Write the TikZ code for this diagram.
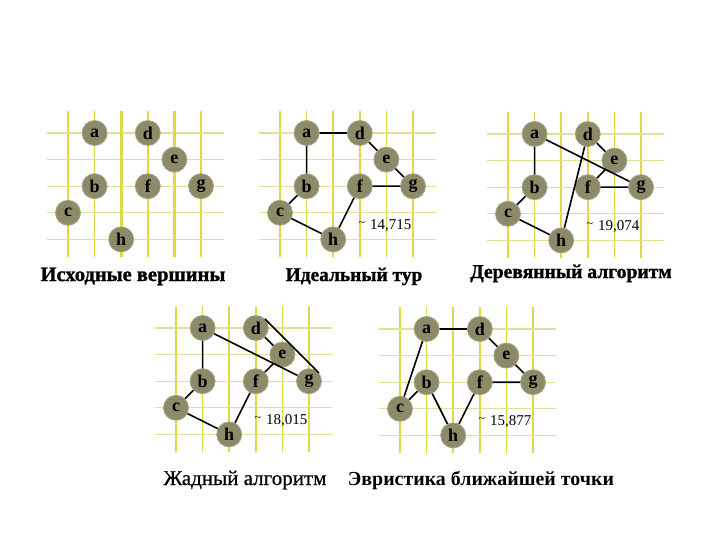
\documentclass[tikz,border=0pt]{standalone}
\usepackage{fontspec}
\setmainfont{Liberation Serif}
\newfontfamily\heavyfont[FakeBold=1.2]{Liberation Serif Bold}
\newfontfamily\semifont[FakeBold=0.6]{Liberation Serif}
\definecolor{nodefill}{RGB}{140,138,104}
\definecolor{noderim}{RGB}{165,163,132}
\definecolor{vline}{RGB}{222,218,70}
\definecolor{hline}{RGB}{226,224,150}
\newcommand{\U}{26.6}
\newcommand{\drawgrid}[2]{%
  \foreach \i in {0,...,5}{\draw[vgrid] (#1+\i*\U, #2-22) -- (#1+\i*\U, #2+4*\U+18);}
  \foreach \j in {0,...,4}{\draw[hgrid] (#1-21, #2+\j*\U) -- (#1+5*\U+23, #2+\j*\U);}
}
\newcommand{\placenodes}[3]{%
  \node[vtx] (#1a) at (#2+1*\U, #3+0*\U) {a};
  \node[vtx] (#1d) at (#2+3*\U, #3+0*\U) {d};
  \node[vtx] (#1e) at (#2+4*\U, #3+1*\U) {e};
  \node[vtx] (#1b) at (#2+1*\U, #3+2*\U) {b};
  \node[vtx] (#1f) at (#2+3*\U, #3+2*\U) {f};
  \node[vtx] (#1g) at (#2+5*\U, #3+2*\U) {g};
  \node[vtx] (#1c) at (#2+0*\U, #3+3*\U) {c};
  \node[vtx] (#1h) at (#2+2*\U, #3+4*\U) {h};
}
\newcommand{\tourlabel}[4]{%
  \node[lbl] (#1l) at (#2+3.4*\U-12, #3+3.47*\U) {{\fontsize{12}{12}\selectfont\raisebox{0.55ex}{\textasciitilde}}\hspace{5pt}#4};
}
\tikzset{
  vgrid/.style={draw=vline, line width=1.5pt},
  vgridthick/.style={draw=vline, line width=3pt},
  hgrid/.style={draw=hline, line width=1.1pt},
  vtx/.style={circle, fill=nodefill, draw=noderim, line width=0.8pt, minimum size=25pt, inner sep=0pt,
    font=\bfseries\fontsize{18}{18}\selectfont},
  edge/.style={draw=black, line width=1.6pt},
  lbl/.style={anchor=west, inner sep=0pt, font=\fontsize{15}{15}\selectfont},
  ttl/.style={inner sep=0pt, anchor=base},
}
\begin{document}
\begin{tikzpicture}[x=1pt,y=-1pt]
\useasboundingbox[fill=white] (0,0) rectangle (720,540);
% panel 1
\drawgrid{68}{133}
\draw[vgridthick] (68+2*\U, 111) -- (68+2*\U, 133+4*\U+18);
\draw[vgridthick] (68+4*\U, 111) -- (68+4*\U, 133+4*\U+18);
\placenodes{p1}{68}{133}
\node[ttl,font=\heavyfont\fontsize{20.5}{20.5}\selectfont] (t1) at (133,281) {Исходные вершины};
% panel 2
\drawgrid{280}{133}
\placenodes{p2}{280}{133}
\draw[edge] (p2a) -- (p2d) -- (p2e) -- (p2g) -- (p2f) -- (p2h) -- (p2c) -- (p2b) -- (p2a);
\tourlabel{p2}{280}{133}{14,715}
\node[ttl,font=\heavyfont\fontsize{19.4}{19.4}\selectfont] (t2) at (354,281) {Идеальный тур};
% panel 3
\drawgrid{508}{134}
\placenodes{p3}{508}{134}
\draw[edge] (p3a) -- (p3b) -- (p3c) -- (p3h) -- (p3d) -- (p3e) -- (p3f) -- (p3g) -- (p3a);
\tourlabel{p3}{508}{134}{19,074}
\node[ttl,font=\heavyfont\fontsize{19.6}{19.6}\selectfont] (t3) at (571,278) {Деревянный алгоритм};
% panel 4
\drawgrid{176}{328}
\placenodes{p4}{176}{328}
\draw[edge] (p4a) -- (p4b) -- (p4c) -- (p4h) -- (p4f) -- (p4e) -- (p4d);
\draw[edge] (p4d.45) -- (p4g.40);
\draw[edge] (p4g) -- (p4a);
\tourlabel{p4}{176}{328}{18,015}
\node[ttl,font=\semifont\fontsize{21}{21}\selectfont] (t4) at (245,485) {Жадный алгоритм};
% panel 5
\drawgrid{400}{329}
\placenodes{p5}{400}{329}
\draw[edge] (p5a) -- (p5d) -- (p5e) -- (p5g) -- (p5f) -- (p5h) -- (p5b) -- (p5c) -- (p5a);
\tourlabel{p5}{400}{329}{15,877}
\node[ttl,font=\bfseries\fontsize{19.9}{19.9}\selectfont] (t5) at (481,485) {Эвристика ближайшей точки};
\end{tikzpicture}
\end{document}
